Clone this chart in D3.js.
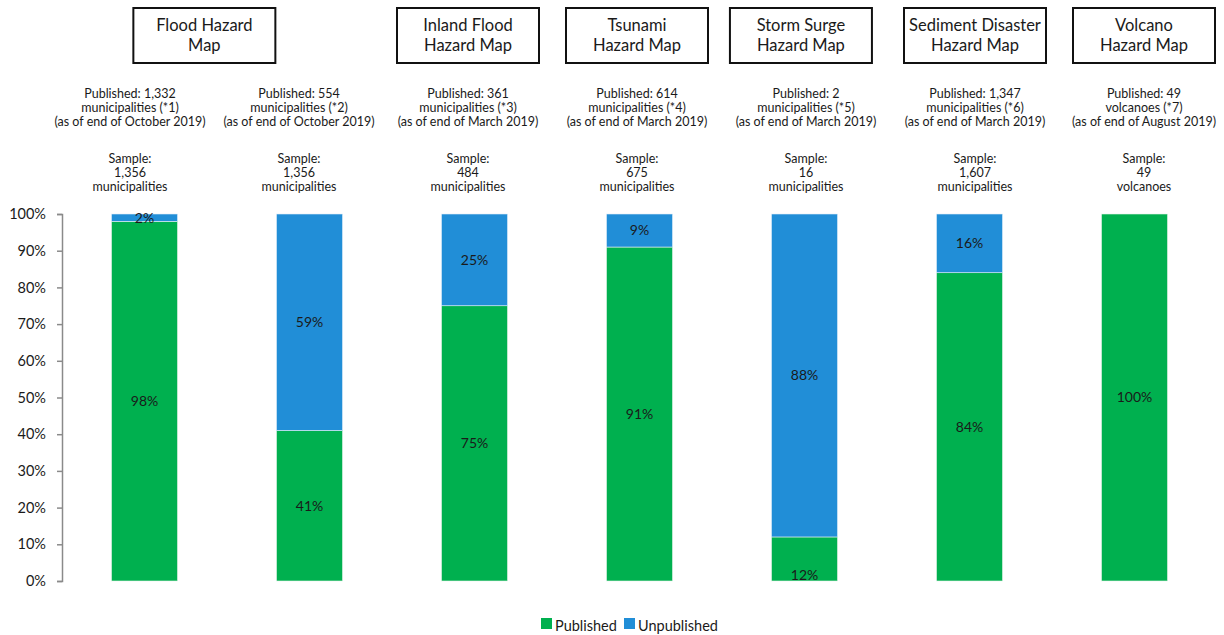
<!DOCTYPE html>
<html><head><meta charset="utf-8">
<script src="https://cdn.jsdelivr.net/npm/d3@7"></script>
<style>body{margin:0;background:#fff}svg{display:block}text{font-family:Lato,"Open Sans",sans-serif;fill:#1a1a1a}</style>
</head><body><svg id="c" width="1224" height="635"></svg>
<script>
const categories = ["Flood (1)","Flood (2)","Inland Flood","Tsunami","Storm Surge","Sediment Disaster","Volcano"];
const published = [98, 41, 75, 91, 12, 84, 100];
const unpublished = [2, 59, 25, 9, 88, 16, 0];
const labelPlacement = ["center","center","center","center","base","center","center"];
const publishedNotes = [
  ["Published: 1,332","municipalities (*1)","(as of end of October 2019)"],
  ["Published: 554","municipalities (*2)","(as of end of October 2019)"],
  ["Published: 361","municipalities (*3)","(as of end of March 2019)"],
  ["Published: 614","municipalities (*4)","(as of end of March 2019)"],
  ["Published: 2","municipalities (*5)","(as of end of March 2019)"],
  ["Published: 1,347","municipalities (*6)","(as of end of March 2019)"],
  ["Published: 49","volcanoes (*7)","(as of end of August 2019)"]
];
const sampleNotes = [
  ["Sample:","1,356","municipalities"],
  ["Sample:","1,356","municipalities"],
  ["Sample:","484","municipalities"],
  ["Sample:","675","municipalities"],
  ["Sample:","16","municipalities"],
  ["Sample:","1,607","municipalities"],
  ["Sample:","49","volcanoes"]
];
const boxTitles = [["Flood Hazard","Map"],["Inland Flood","Hazard Map"],["Tsunami","Hazard Map"],["Storm Surge","Hazard Map"],["Sediment Disaster","Hazard Map"],["Volcano","Hazard Map"]];
const boxColumns = [0.44, 2, 3, 3.97, 5, 6];
const yTicks = [0,10,20,30,40,50,60,70,80,90,100];
const seriesNames = ["Published","Unpublished"];
const colors = {Published:"#00B04F", Unpublished:"#218ED7"};

const svg = d3.select("#c");
const x = d3.scaleBand().domain(categories).range([62, 1217]).paddingInner(0.6).paddingOuter(0.3);
const y = d3.scaleLinear().domain([0,100]).range([581, 214]);
const xa = d3.scaleLinear().domain([0,6]).range([130,1144]);

// axis
const ax = svg.append("g").attr("transform","translate(62,0)")
  .call(d3.axisLeft(y).tickValues(yTicks).tickFormat(d=>d+"%").tickSize(5).tickSizeOuter(5));
ax.select(".domain").attr("stroke","#8a8a8a").attr("stroke-width",1.5);
ax.selectAll(".tick line").attr("stroke","#8a8a8a").attr("stroke-width",1.5);
ax.selectAll(".tick text").attr("x",-16).style("font-size","14.5px").style("font-family","Lato,sans-serif").attr("fill","#1a1a1a");

// bars
const rows = categories.map((c,i)=>({c, p:published[i], u:unpublished[i], pos:labelPlacement[i]}));
const g = svg.append("g");
rows.forEach(r=>{
  const bx = x(r.c), bw = x.bandwidth();
  g.append("rect").attr("x",bx).attr("width",bw).attr("y",y(r.p)).attr("height",y(0)-y(r.p))
    .attr("fill",colors.Published).attr("stroke","#e8f4ec").attr("stroke-width",0.6);
  if (r.u>0) g.append("rect").attr("x",bx).attr("width",bw).attr("y",y(r.p+r.u)).attr("height",y(r.p)-y(r.p+r.u))
    .attr("fill",colors.Unpublished).attr("stroke","#e3eef8").attr("stroke-width",0.6);
  const cx = bx+bw/2;
  const py = r.pos==="base" ? y(0)-6 : (y(0)+y(r.p))/2;
  g.append("text").attr("x",cx).attr("y",py).attr("dy","0.35em").attr("text-anchor","middle").style("font-size","14px").text(r.p+"%");
  if (r.u>0) g.append("text").attr("x",cx).attr("y",(y(r.p)+y(r.p+r.u))/2).attr("dy","0.35em").attr("text-anchor","middle").style("font-size","14px").text(r.u+"%");
});

// notes
publishedNotes.forEach((lines,i)=>{
  lines.forEach((t,j)=>svg.append("text").attr("x",xa(i)).attr("y",94+j*14).attr("dy","0.35em")
    .attr("text-anchor","middle").style("font-size","12.5px").text(t));
});
sampleNotes.forEach((lines,i)=>{
  lines.forEach((t,j)=>svg.append("text").attr("x",xa(i)).attr("y",159+j*14).attr("dy","0.35em")
    .attr("text-anchor","middle").style("font-size","12.5px").text(t));
});

// boxes
boxTitles.forEach((lines,i)=>{
  const cx = xa(boxColumns[i]);
  svg.append("rect").attr("x",cx-71).attr("y",8).attr("width",142).attr("height",55)
    .attr("fill","#fff").attr("stroke","#111").attr("stroke-width",2);
  lines.forEach((t,j)=>svg.append("text").attr("x",cx).attr("y",25+j*20).attr("dy","0.35em")
    .attr("text-anchor","middle").style("font-size","16.5px").text(t));
});

// legend
const lg = svg.append("g");
const legendX = [541, 624];
seriesNames.forEach((s,i)=>{
  lg.append("rect").attr("x",legendX[i]).attr("y",618).attr("width",11).attr("height",11).attr("fill",colors[s]);
  lg.append("text").attr("x",legendX[i]+14).attr("y",626).attr("dy","0.35em").style("font-size","14.5px").text(s);
});
</script></body></html>
